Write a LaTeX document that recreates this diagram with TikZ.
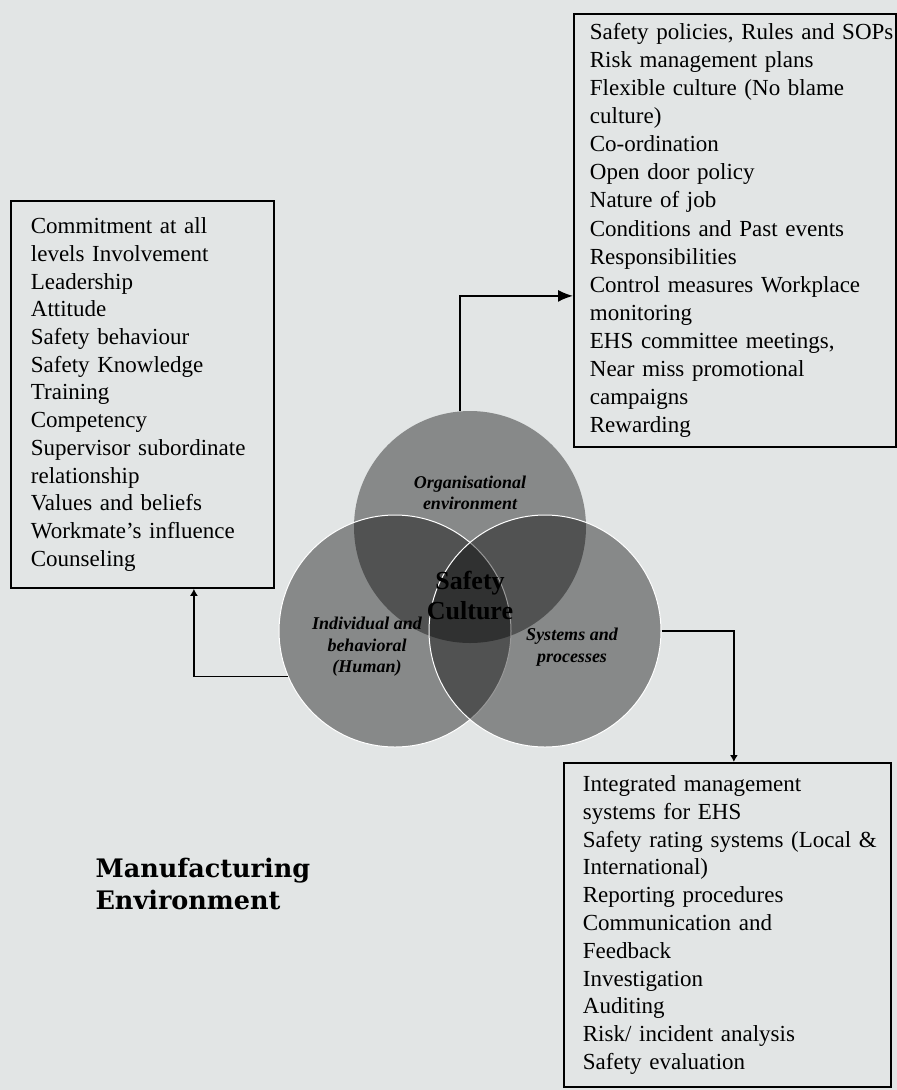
\documentclass[tikz,border=0pt]{standalone}
\usepackage{fontspec}
\setmainfont{Liberation Serif}
\newfontfamily\titlefont{DejaVu Serif}
\usetikzlibrary{arrows.meta,positioning}
\definecolor{PaperGray}{RGB}{226,229,229}
\tikzset{
  listbox/.style={draw=black,line width=1.8pt,rectangle,anchor=north west,
    align=left,inner xsep=20pt,font=\fontsize{23}{27.7}\selectfont},
  ring/.style={circle,minimum size=232pt,inner sep=0pt,fill=black,
    fill opacity=0.4},
  ringlabel/.style={align=center,
    font=\bfseries\itshape\fontsize{18}{21.5}\selectfont},
  link/.style={-{Latex[length=15pt,width=12pt]},line width=1.6pt,draw=black},
  smalllink/.style={link,-{Latex[length=7pt,width=8pt]}},
}

\begin{document}
\begin{tikzpicture}[x=1pt,y=-1pt]
  \fill[PaperGray] (0,0) rectangle (897,1090);
  \useasboundingbox (0,0) rectangle (897,1090);
  % three overlapping rings
  \node[ring] (org) at (470,527) {};
  \node[ring,draw=white,line width=1pt] (ind) at (395,631) {};
  \node[ring,draw=white,line width=1pt] (sys) at (545,631) {};
  \node[ringlabel] (orglabel) at (470,493) {Organisational\\environment};
  \node[ringlabel] (indlabel) at (367,647) {Individual and\\behavioral\\(Human)};
  \node[ringlabel] (syslabel) at (572,647) {Systems and\\processes};
  \node[align=center,font=\bfseries\fontsize{26}{30}\selectfont] (culture)
    at (470,595) {Safety\\Culture};
  % factor lists
  \node[listbox,minimum width=263pt,minimum height=387pt,text width=223pt]
    (humanbox) at (10,200) {Commitment at all\\levels Involvement\\Leadership\\
    Attitude\\Safety behaviour\\Safety Knowledge\\Training\\Competency\\
    Supervisor subordinate\\relationship\\Values and beliefs\\
    Workmate's influence\\Counseling};
  \node[listbox,minimum width=322pt,minimum height=433pt,inner xsep=16pt,
    text width=290pt,font=\fontsize{23}{28.1}\selectfont]
    (orgbox) at (573,13) {\mbox{Safety policies, Rules and SOPs}\\
    Risk management plans\\Flexible culture (No blame\\culture)\\
    Co-ordination\\Open door policy\\Nature of job\\
    Conditions and Past events\\Responsibilities\\
    Control measures Workplace\\monitoring\\EHS committee meetings,\\
    Near miss promotional\\campaigns\\Rewarding};
  \node[listbox,minimum width=327pt,minimum height=324pt,inner xsep=19pt,
    text width=289pt,font=\fontsize{23}{27.8}\selectfont]
    (sysbox) at (563,762) {Integrated management\\
    systems for EHS\\\mbox{Safety rating systems (Local \&}\\International)\\
    Reporting procedures\\Communication and\\Feedback\\Investigation\\
    Auditing\\Risk/ incident analysis\\Safety evaluation};
  \node[anchor=west,align=left,
    font=\titlefont\bfseries\fontsize{25.5}{32}\selectfont]
    (setting) at (92,884) {Manufacturing\\Environment};
  % connectors
  \draw[link] (org.95) |- ([yshift=-65.5pt]orgbox.west);
  \draw[smalllink] (ind.203) -| ([xshift=51.5pt]humanbox.south);
  \draw[smalllink] (sys.east) -| ([xshift=6.5pt]sysbox.north);
\end{tikzpicture}
\end{document}
